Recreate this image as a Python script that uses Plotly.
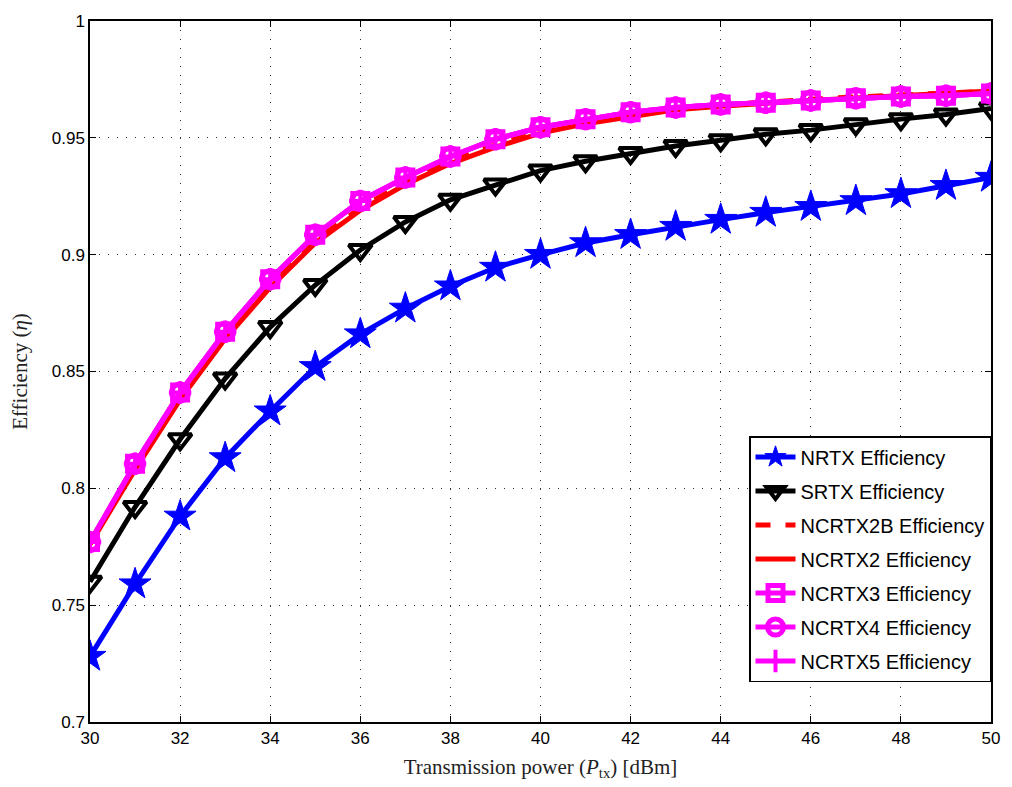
import plotly.graph_objects as go

power_dbm = list(range(30, 51))

nrtx = [0.728, 0.759, 0.788, 0.813, 0.833, 0.852, 0.866, 0.877, 0.8865, 0.8945, 0.900,
        0.905, 0.9085, 0.912, 0.915, 0.918, 0.9205, 0.923, 0.926, 0.9295, 0.933]
srtx = [0.760, 0.792, 0.821, 0.847, 0.869, 0.887, 0.902, 0.914, 0.9235, 0.930, 0.936,
        0.940, 0.9435, 0.9465, 0.949, 0.9515, 0.9533, 0.9558, 0.958, 0.960, 0.9626]
ncrtx2b = [0.777, 0.809, 0.839, 0.865, 0.887, 0.906, 0.920, 0.931, 0.940, 0.947, 0.953,
           0.957, 0.960, 0.9625, 0.964, 0.9655, 0.9665, 0.9675, 0.9685, 0.9693, 0.970]
ncrtx2 = [0.776, 0.808, 0.838, 0.864, 0.886, 0.905, 0.919, 0.930, 0.939, 0.946, 0.952,
          0.956, 0.959, 0.962, 0.9635, 0.965, 0.966, 0.967, 0.968, 0.969, 0.970]
ncrtx3 = [0.777, 0.8105, 0.841, 0.867, 0.8895, 0.9085, 0.923, 0.933, 0.942, 0.9494, 0.9545,
          0.958, 0.961, 0.963, 0.9643, 0.965, 0.966, 0.9669, 0.9677, 0.968, 0.969]
ncrtx4 = list(ncrtx3)
ncrtx5 = list(ncrtx3)

series = [
    ("NRTX Efficiency", nrtx, dict(color="#0000ff", width=5, dash="solid"),
     dict(symbol="star", size=24, color="#0000ff", line=dict(color="#0000ff", width=1))),
    ("SRTX Efficiency", srtx, dict(color="#000000", width=5, dash="solid"),
     dict(symbol="triangle-down-open", size=20, color="#000000", line=dict(color="#000000", width=4))),
    ("NCRTX2B Efficiency", ncrtx2b, dict(color="#ff0000", width=5, dash="dash"), None),
    ("NCRTX2 Efficiency", ncrtx2, dict(color="#ff0000", width=5, dash="solid"), None),
    ("NCRTX3 Efficiency", ncrtx3, dict(color="#ff00ff", width=5, dash="solid"),
     dict(symbol="square-open", size=15, color="#ff00ff", line=dict(color="#ff00ff", width=5))),
    ("NCRTX4 Efficiency", ncrtx4, dict(color="#ff00ff", width=5, dash="solid"),
     dict(symbol="circle-open", size=17, color="#ff00ff", line=dict(color="#ff00ff", width=5))),
    ("NCRTX5 Efficiency", ncrtx5, dict(color="#ff00ff", width=5, dash="solid"),
     dict(symbol="cross-thin", size=16, color="#ff00ff", line=dict(color="#ff00ff", width=4))),
]

fig = go.Figure()
for i, (name, vals, line, marker) in enumerate(series):
    kw = dict(x=power_dbm, y=vals, name=name, line=line, legendgroup=f"g{i}")
    if marker is None:
        fig.add_trace(go.Scatter(mode="lines", **kw))
    else:
        fig.add_trace(go.Scatter(mode="lines+markers", marker=marker, **kw))

axis_common = dict(
    showline=True, linecolor="black", linewidth=1.5, mirror="ticks",
    ticks="inside", ticklen=6, tickcolor="black", tickwidth=1,
    showgrid=True, gridcolor="#333333", griddash="1px,8px", gridwidth=1,
    zeroline=False,
    tickfont=dict(family="Liberation Sans, Arial", size=17, color="black"),
)

fig.update_xaxes(range=[30, 50], tickmode="array", tickvals=list(range(30, 51, 2)),
                 title=dict(text="Transmission power (<i>P</i><sub>tx</sub>) [dBm]",
                            font=dict(family="Liberation Serif, Times New Roman", size=21, color="#222222"),
                            standoff=12),
                 **axis_common)
fig.update_yaxes(range=[0.7, 1.0], tickmode="array",
                 tickvals=[0.7, 0.75, 0.8, 0.85, 0.9, 0.95, 1.0],
                 ticktext=["0.7", "0.75", "0.8", "0.85", "0.9", "0.95", "1"],
                 title=dict(text="Efficiency (<i>η</i>)",
                            font=dict(family="Liberation Serif, Times New Roman", size=21, color="#222222"),
                            standoff=18),
                 **axis_common)

fig.update_layout(
    width=1012, height=787,
    margin=dict(l=90, r=17, t=16, b=65),
    paper_bgcolor="white", plot_bgcolor="white",
    showlegend=True,
    legend=dict(x=1, xanchor="right", y=0.057, yanchor="bottom",
                bgcolor="white", bordercolor="black", borderwidth=1.5,
                font=dict(family="Liberation Sans, Arial", size=20, color="black"),
                traceorder="grouped", tracegroupgap=5, itemwidth=40),
)

fig.write_html("out.html")
